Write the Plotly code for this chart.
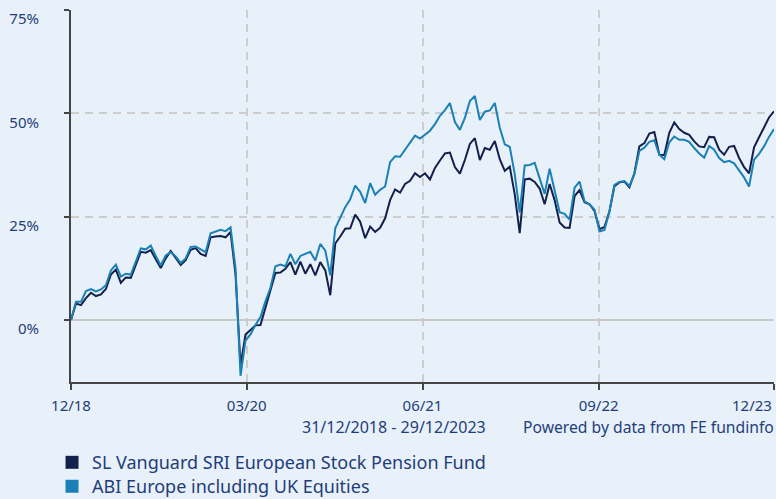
import pandas as pd
import plotly.graph_objects as go

start_date = "2018-12-31"
end_date = "2023-12-29"

fund_name = "SL Vanguard SRI European Stock Pension Fund"
index_name = "ABI Europe including UK Equities"

fund_values = [
    0.0, 4.0, 3.6, 5.3, 6.6, 5.8, 6.2, 7.5, 11.0, 12.2,
    9.0, 10.3, 10.2, 13.5, 16.5, 16.3, 16.9, 14.7, 12.6, 14.9,
    16.7, 15.0, 13.3, 14.5, 17.0, 17.4, 16.0, 15.5, 20.0, 20.2,
    20.3, 20.0, 21.3, 11.0, -11.0, -3.5, -2.5, -1.3, -1.2, 3.0,
    7.0, 11.4, 11.5, 12.4, 14.0, 11.0, 14.1, 11.2, 13.5, 10.8,
    14.0, 12.0, 6.0, 18.5, 20.2, 22.1, 22.2, 25.5, 23.8, 19.8,
    22.6, 21.3, 22.3, 24.6, 29.0, 31.6, 30.8, 32.9, 33.7, 35.5,
    34.6, 35.5, 34.0, 36.8, 38.6, 40.3, 40.5, 37.0, 35.4, 38.7,
    42.6, 44.0, 38.7, 41.6, 41.2, 43.3, 38.9, 36.1, 37.1, 30.4,
    21.0, 34.0, 34.2, 33.4, 31.8, 28.0, 32.9, 29.0, 23.6, 22.4,
    22.3, 30.0, 31.4, 28.5, 28.0, 26.4, 22.0, 22.5, 26.3, 32.4,
    33.3, 33.5, 32.1, 35.5, 42.0, 42.8, 45.1, 45.5, 40.0, 39.9,
    45.3, 47.8, 46.2, 45.3, 44.8, 43.2, 42.0, 41.8, 44.3, 44.2,
    41.2, 40.0, 41.9, 42.1, 39.2, 37.0, 35.5, 41.8, 44.2, 46.5,
    49.0, 50.5,
]

index_values = [
    0.0, 4.4, 4.4, 7.0, 7.5, 6.9, 7.4, 8.4, 12.0, 13.4,
    10.5, 11.2, 11.0, 14.4, 17.3, 17.1, 18.0, 15.5, 13.2, 15.6,
    16.4, 15.4, 13.8, 14.9, 17.7, 17.8, 17.0, 16.4, 21.0, 21.4,
    21.8, 21.5, 22.4, 12.5, -13.5, -5.0, -3.5, -1.2, 0.7, 4.5,
    7.8, 13.0, 13.4, 13.0, 16.0, 13.5, 15.5, 16.0, 16.5, 14.4,
    18.4, 16.8, 10.8, 22.2, 24.8, 27.3, 29.2, 32.5, 31.0, 28.3,
    33.1, 30.3, 31.5, 32.3, 38.2, 39.6, 39.5, 41.2, 43.1, 44.6,
    43.9, 44.8, 45.8, 47.4, 49.4, 50.8, 52.5, 47.9, 46.0, 48.9,
    53.0, 54.2, 48.4, 50.4, 50.7, 52.5, 46.5, 42.5, 41.9, 35.3,
    26.0, 37.4, 37.5, 38.0, 34.5, 30.5, 36.6, 31.5, 26.1, 25.7,
    24.3, 32.0, 33.5, 28.7, 28.0, 26.7, 21.4, 21.8, 26.3, 32.7,
    33.4, 33.6, 32.4, 35.3, 40.9, 41.7, 43.1, 43.5, 40.0, 38.9,
    43.0, 44.4, 43.6, 43.6, 43.1, 41.6, 40.3, 39.3, 42.1, 41.2,
    39.2, 38.2, 38.5, 37.9, 36.3, 34.5, 32.3, 38.8, 40.2, 42.0,
    44.3, 46.2,
]

tick_dates = ["2018-12-31", "2020-03-31", "2021-06-30", "2022-09-30", "2023-12-29"]
tick_labels = ["12/18", "03/20", "06/21", "09/22", "12/23"]
y_ticks = [0, 25, 50, 75]
y_labels = ["0%", "25%", "50%", "75%"]

dates = pd.date_range(start_date, end_date, periods=len(fund_values))

fund_color = "#14204c"
index_color = "#1a80b6"
text_color = "#1f3d7a"
bg = "#e8f1f9"
grid_color = "#cdcdcd"
font_family = "Noto Sans, Open Sans, sans-serif"

# the last tick sits on the right edge; its label is right-aligned to the edge
tick_text = tick_labels[:-1] + [""]

fig = go.Figure()
fig.add_trace(go.Scatter(x=dates, y=fund_values, mode="lines",
                         line=dict(color=fund_color, width=2), showlegend=False))
fig.add_trace(go.Scatter(x=dates, y=index_values, mode="lines",
                         line=dict(color=index_color, width=2), showlegend=False))
# legend entries with square markers (one legend box per entry)
fig.add_trace(go.Scatter(x=[None], y=[None], mode="markers", name=fund_name,
                         marker=dict(symbol="square", size=13, color=fund_color),
                         legend="legend"))
fig.add_trace(go.Scatter(x=[None], y=[None], mode="markers", name=index_name,
                         marker=dict(symbol="square", size=13, color=index_color),
                         legend="legend2"))

legend_common = dict(xref="paper", yref="container", xanchor="left", yanchor="top",
                     orientation="v", font=dict(size=18, color=text_color),
                     bgcolor="rgba(0,0,0,0)", itemsizing="trace")

fig.update_layout(
    width=776, height=499,
    margin=dict(l=71, r=2, t=10, b=117),
    paper_bgcolor=bg, plot_bgcolor=bg,
    font=dict(family=font_family, color=text_color, size=15),
    legend=dict(x=-0.027, y=0.110, **legend_common),
    legend2=dict(x=-0.027, y=0.062, **legend_common),
    annotations=[
        dict(text=tick_labels[-1], xref="paper", yref="paper",
             x=1.0, y=-0.062, xanchor="right", yanchor="middle",
             showarrow=False, font=dict(size=15, color=text_color)),
        dict(text="31/12/2018 - 29/12/2023", xref="paper", yref="paper",
             x=0.460, y=-0.12, xanchor="center", yanchor="middle",
             showarrow=False, font=dict(size=16, color=text_color)),
        dict(text="Powered by data from FE fundinfo", xref="paper", yref="paper",
             x=1.003, y=-0.12, xanchor="right", yanchor="middle",
             showarrow=False, font=dict(size=15.7, color=text_color)),
    ],
)

fig.update_xaxes(
    range=[start_date, end_date],
    tickvals=tick_dates, ticktext=tick_text,
    showline=True, linecolor="#454545", linewidth=2,
    ticks="outside", ticklen=6, tickcolor="#454545", tickwidth=2,
    showgrid=True, gridcolor=grid_color, griddash="8px,6px", gridwidth=2,
    zeroline=False, tickfont=dict(size=15, color=text_color),
    ticklabelstandoff=3, automargin=False,
)
fig.update_yaxes(
    range=[-15, 75],
    tickvals=y_ticks, ticktext=y_labels,
    showline=True, linecolor="#454545", linewidth=2,
    ticks="outside", ticklen=5, tickcolor="#454545", tickwidth=2,
    showgrid=True, gridcolor=grid_color, griddash="8px,6px", gridwidth=2,
    zeroline=True, zerolinecolor="#c9c9c9", zerolinewidth=2,
    tickfont=dict(size=15, color=text_color),
    ticklabelstandoff=22, ticklabelshift=9, automargin=False,
)

fig.write_html("out.html")
